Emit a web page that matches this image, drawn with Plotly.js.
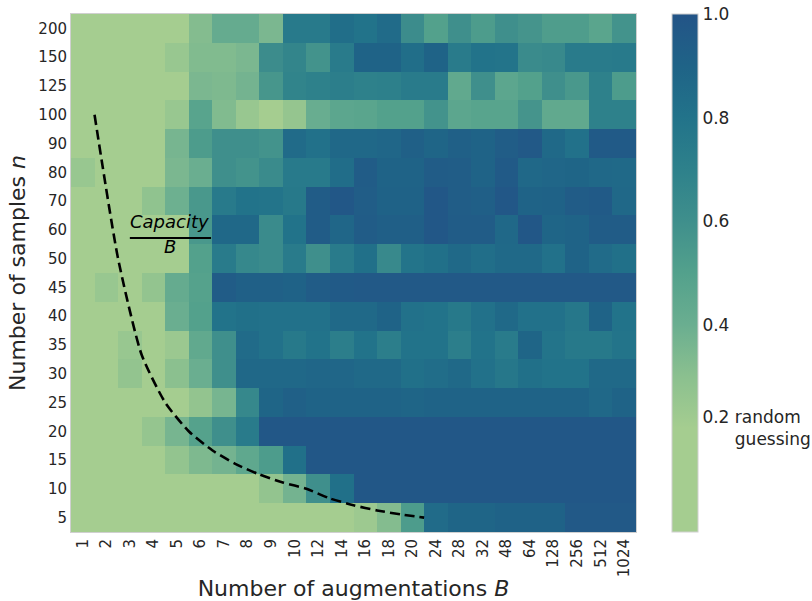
<!DOCTYPE html>
<html>
<head>
<meta charset="utf-8">
<script src="https://cdn.plot.ly/plotly-3.0.1.min.js"></script>
<style>html,body{margin:0;padding:0;background:#fff;}#chart{width:812px;height:601px;}</style>
</head>
<body>
<div id="chart"></div>
<script>
// Categories
const augmentations = ['1','2','3','4','5','6','7','8','9','10','12','14','16','18','20','24','28','32','48','64','128','256','512','1024'];
const samples = ['5','10','15','20','25','30','35','40','45','50','60','70','80','90','100','125','150','200'];
const LG = 0.15;
// accuracy per row (n), bottom (5) to top (200); one value per B
const acc_5   = [LG,LG,LG,LG,LG,LG,LG,LG,LG,LG,LG,LG,0.23,0.32,0.53,0.85,0.89,0.89,0.91,0.91,0.91,0.97,0.97,0.97];
const acc_10  = [LG,LG,LG,LG,LG,LG,LG,LG,0.27,0.37,0.60,0.82,0.98,0.98,0.98,0.98,0.98,0.98,0.98,0.98,0.98,0.98,0.98,0.98];
const acc_15  = [LG,LG,LG,LG,0.27,0.34,0.37,0.45,0.53,0.82,0.98,0.98,0.98,0.98,0.98,0.98,0.98,0.98,0.98,0.98,0.98,0.98,0.98,0.98];
const acc_20  = [LG,LG,LG,0.26,0.36,0.49,0.60,0.74,0.98,0.98,0.98,0.98,0.98,0.98,0.98,0.98,0.98,0.98,0.98,0.98,0.98,0.98,0.98,0.98];
const acc_25  = [LG,LG,LG,LG,LG,0.27,0.36,0.65,0.89,0.92,0.90,0.90,0.90,0.90,0.89,0.90,0.90,0.90,0.90,0.90,0.90,0.90,0.87,0.90];
const acc_30  = [LG,LG,0.27,LG,0.30,0.40,0.60,0.87,0.87,0.87,0.88,0.88,0.86,0.86,0.82,0.84,0.86,0.81,0.77,0.82,0.80,0.80,0.86,0.86];
const acc_35  = [LG,LG,0.25,LG,0.24,0.44,0.60,0.85,0.81,0.76,0.80,0.72,0.80,0.72,0.80,0.80,0.72,0.80,0.74,0.89,0.79,0.76,0.76,0.79];
const acc_40  = [LG,LG,LG,LG,0.40,0.50,0.80,0.82,0.81,0.81,0.81,0.86,0.86,0.90,0.81,0.80,0.76,0.81,0.86,0.81,0.81,0.77,0.90,0.80];
const acc_45  = [LG,0.25,LG,0.27,0.42,0.49,0.95,0.92,0.92,0.91,0.95,0.96,0.97,0.97,0.97,0.97,0.97,0.97,0.97,0.97,0.97,0.97,0.97,0.97];
const acc_50  = [LG,LG,LG,LG,LG,0.50,0.74,0.65,0.63,0.74,0.60,0.74,0.82,0.64,0.79,0.82,0.86,0.83,0.86,0.86,0.81,0.90,0.85,0.82];
const acc_60  = [LG,LG,LG,LG,LG,0.55,0.87,0.87,0.63,0.80,0.95,0.88,0.95,0.93,0.93,0.98,0.95,0.95,0.87,0.98,0.89,0.90,0.95,0.95];
const acc_70  = [LG,LG,LG,0.28,0.39,0.55,0.75,0.80,0.79,0.76,0.95,0.98,0.94,0.91,0.91,0.98,0.94,0.93,0.98,0.90,0.91,0.95,0.96,0.87];
const acc_80  = [0.25,LG,LG,LG,0.35,0.40,0.60,0.58,0.63,0.75,0.75,0.84,0.95,0.90,0.90,0.95,0.94,0.90,0.96,0.87,0.88,0.89,0.87,0.86];
const acc_90  = [LG,LG,LG,LG,0.36,0.53,0.60,0.60,0.58,0.85,0.81,0.87,0.87,0.88,0.92,0.89,0.92,0.90,0.94,0.97,0.86,0.81,0.96,0.96];
const acc_100 = [LG,LG,LG,0.20,0.25,0.48,0.33,0.25,0.19,0.26,0.41,0.46,0.47,0.50,0.50,0.58,0.46,0.48,0.48,0.57,0.44,0.44,0.70,0.70];
const acc_125 = [LG,LG,LG,LG,0.20,0.35,0.34,0.37,0.56,0.68,0.70,0.72,0.70,0.71,0.74,0.74,0.44,0.60,0.46,0.50,0.60,0.55,0.70,0.53];
const acc_150 = [LG,LG,LG,LG,0.25,0.33,0.33,0.35,0.62,0.67,0.58,0.74,0.90,0.90,0.83,0.90,0.74,0.80,0.79,0.63,0.64,0.74,0.74,0.75];
const acc_200 = [LG,LG,LG,LG,0.20,0.32,0.42,0.42,0.35,0.75,0.75,0.83,0.80,0.85,0.62,0.50,0.60,0.53,0.60,0.57,0.52,0.52,0.47,0.58];

// Capacity / B curve (Capacity = 100)
const curveB = ['1','2','3','4','5','6','7','8','9','10','12','14','16','18','20'];
const curveN = [100,50,33.3,25,20,16.7,14.3,12.5,11.1,10,8.33,7.14,6.25,5.56,5];

const colorTicks = [0.2,0.4,0.6,0.8,1.0];
const colorTickText = ['0.2 random<br>\u00a0\u00a0\u00a0\u00a0\u00a0\u00a0guessing','0.4','0.6','0.8','1.0'];

const z = [acc_5,acc_10,acc_15,acc_20,acc_25,acc_30,acc_35,acc_40,acc_45,acc_50,acc_60,acc_70,acc_80,acc_90,acc_100,acc_125,acc_150,acc_200];
const xIdx = augmentations.map((_,i)=>i);
const yIdx = samples.map((_,i)=>i);
const nVals = samples.map(Number);
function nToPos(n){
  for(let i=0;i<nVals.length-1;i++){
    if(n>=nVals[i] && n<=nVals[i+1]) return i + (n-nVals[i])/(nVals[i+1]-nVals[i]);
  }
  return n < nVals[0] ? 0 : nVals.length-1;
}
const curveX = curveB.map(b => augmentations.indexOf(b) + 0.5);
const curveY = curveN.map(nToPos);

const colorscale = [
  [0,'#a5cd90'],[0.2,'#a5cd90'],[0.3,'#8bc08f'],[0.4,'#6aae90'],[0.5,'#53a18c'],
  [0.6,'#3f8f8c'],[0.7,'#2e818b'],[0.8,'#22738a'],[0.9,'#1f6387'],[1.0,'#235487']
];

const font = {family:'DejaVu Sans, sans-serif', color:'#262626'};

const traces = [
  {type:'heatmap', x:xIdx, y:yIdx, z:z, zmin:0, zmax:1, colorscale:colorscale, hoverinfo:'skip',
   colorbar:{x:1.0637, xanchor:'left', xpad:0, y:0.5, yanchor:'middle', len:1, lenmode:'fraction', ypad:0,
     thickness:26, outlinewidth:1, outlinecolor:'#d0d0d0', ticks:'', tickvals:colorTicks, ticktext:colorTickText,
     tickfont:{family:font.family, color:'#262626', size:17}}},
  {type:'scatter', mode:'lines', x:curveX, y:curveY, line:{color:'#000', width:2.6, dash:'10px,5px', shape:'spline', smoothing:0.6}, hoverinfo:'skip', showlegend:false}
];

const layout = {
  width:812, height:601,
  margin:{l:71, r:176, t:14, b:69, autoexpand:false},
  paper_bgcolor:'#fff', plot_bgcolor:'#fff',
  font:font, showlegend:false,
  xaxis:{range:[-0.5,23.5], tickvals:xIdx, ticktext:augmentations, tickangle:-90, ticks:'', showgrid:false, zeroline:false,
    showline:true, mirror:true, linecolor:'#d0d0d0', linewidth:1, tickfont:{size:15, color:'#262626'},
    title:{text:'Number of augmentations <i>B</i>', font:{size:22, color:'#262626'}, standoff:4}, automargin:false},
  yaxis:{range:[-0.5,17.5], tickvals:yIdx, ticktext:samples, ticks:'', showgrid:false, zeroline:false,
    showline:true, mirror:true, linecolor:'#d0d0d0', linewidth:1, tickfont:{size:15, color:'#262626'},
    title:{text:'Number of samples <i>n</i>', font:{size:22, color:'#262626'}, standoff:6}, automargin:false},
  annotations:[
    {x:3.70, y:10.28, xref:'x', yref:'y', text:'<i>Capacity</i>', showarrow:false, font:{size:18, color:'#000'}},
    {x:3.70, y:9.41, xref:'x', yref:'y', text:'<i>B</i>', showarrow:false, font:{size:18, color:'#000'}}
  ],
  shapes:[
    {type:'line', xref:'x', yref:'y', x0:2.0, x1:5.45, y0:9.72, y1:9.72, line:{color:'#000', width:2}}
  ]
};

Plotly.newPlot('chart', traces, layout, {displayModeBar:false, staticPlot:true});
</script>
</body>
</html>
